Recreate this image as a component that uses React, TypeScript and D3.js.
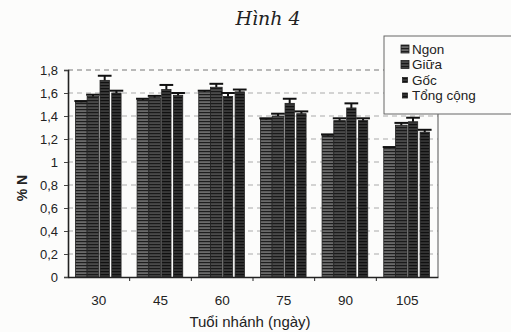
import React, { useEffect, useRef } from "react";
import * as d3 from "d3";

// tuổi nhánh (ngày)
const ages = ["30", "45", "60", "75", "90", "105"];
const seriesNames = ["Ngon", "Giữa", "Gốc", "Tổng cộng"];

// % N, mean per series
const ngon = [1.52, 1.54, 1.61, 1.37, 1.23, 1.12];
const giua = [1.57, 1.56, 1.65, 1.4, 1.36, 1.32];
const goc = [1.71, 1.63, 1.57, 1.51, 1.47, 1.35];
const tong = [1.6, 1.58, 1.61, 1.42, 1.36, 1.26];

// error bar half-widths
const ngonErr = [0.01, 0.01, 0.01, 0.01, 0.01, 0.01];
const giuaErr = [0.015, 0.015, 0.03, 0.02, 0.02, 0.02];
const gocErr = [0.04, 0.04, 0.03, 0.04, 0.04, 0.035];
const tongErr = [0.02, 0.02, 0.02, 0.02, 0.02, 0.02];

const yTicks = [0, 0.2, 0.4, 0.6, 0.8, 1, 1.2, 1.4, 1.6, 1.8];

const App = () => {
  const container = useRef<SVGSVGElement>(null);

  useEffect(() => {
    const svg = d3.select(container.current);
    svg.selectAll("*").remove();

    const width = 511, height = 332;
    const margin = { top: 70, right: 73, bottom: 55, left: 68 };
    const innerW = width - margin.left - margin.right;
    const innerH = height - margin.top - margin.bottom;
    const font = "Liberation Sans, Arial, sans-serif";

    svg.append("rect").attr("width", width).attr("height", height).attr("fill", "#fcfcfb");

    // bar patterns (scanned striping)
    const defs = svg.append("defs");
    const pat = [
      { id: "p0", bg: "#6a6a6a", fg: "#1e1e1e" },
      { id: "p1", bg: "#4a4a4a", fg: "#1a1a1a" },
      { id: "p2", bg: "#3a3a3a", fg: "#111" },
      { id: "p3", bg: "#333", fg: "#111" },
    ];
    pat.forEach((p) => {
      const el = defs.append("pattern").attr("id", p.id)
        .attr("patternUnits", "userSpaceOnUse").attr("width", 4).attr("height", 3);
      el.append("rect").attr("width", 4).attr("height", 3).attr("fill", p.bg);
      el.append("rect").attr("width", 4).attr("height", 1.2).attr("fill", p.fg);
    });

    const g = svg.append("g").attr("transform", `translate(${margin.left},${margin.top})`);

    const x0 = d3.scaleBand().domain(ages).range([0, innerW]).paddingInner(0.24).paddingOuter(0.12);
    const x1 = d3.scaleBand().domain(seriesNames).range([0, x0.bandwidth()]);
    const y = d3.scaleLinear().domain([0, 1.8]).range([innerH, 0]);

    // gridlines
    g.append("g").selectAll("line").data(yTicks.slice(1)).enter().append("line")
      .attr("x1", 0).attr("x2", innerW)
      .attr("y1", (d) => y(d)).attr("y2", (d) => y(d))
      .attr("stroke", (d) => (d === 1.8 ? "#777" : "#aaa"))
      .attr("stroke-width", 1)
      .attr("stroke-dasharray", "5,4");

    // plot border right
    g.append("line").attr("x1", innerW).attr("x2", innerW).attr("y1", 0).attr("y2", innerH)
      .attr("stroke", "#555");

    const series = [
      { name: seriesNames[0], vals: ngon, err: ngonErr, inset: 0 },
      { name: seriesNames[1], vals: giua, err: giuaErr, inset: 0 },
      { name: seriesNames[2], vals: goc, err: gocErr, inset: 1.2 },
      { name: seriesNames[3], vals: tong, err: tongErr, inset: 1.2 },
    ];

    series.forEach((s, si) => {
      const grp = g.append("g");
      grp.selectAll("rect").data(s.vals).enter().append("rect")
        .attr("x", (d, i) => (x0(ages[i]) as number) + (x1(s.name) as number) + s.inset)
        .attr("y", (d) => y(d))
        .attr("width", x1.bandwidth() - s.inset * 2)
        .attr("height", (d) => innerH - y(d))
        .attr("fill", `url(#p${si})`)
        .attr("stroke", "#222").attr("stroke-width", 0.8);

      // error bars
      s.vals.forEach((v, i) => {
        const cx = (x0(ages[i]) as number) + (x1(s.name) as number) + x1.bandwidth() / 2;
        const top = y(v + s.err[i]);
        grp.append("line").attr("x1", cx).attr("x2", cx).attr("y1", y(v)).attr("y2", top)
          .attr("stroke", "#111").attr("stroke-width", 2);
        grp.append("line").attr("x1", cx - x1.bandwidth() / 2 - 1).attr("x2", cx + x1.bandwidth() / 2 + 1)
          .attr("y1", top).attr("y2", top)
          .attr("stroke", "#111").attr("stroke-width", 2);
      });
    });

    // y axis
    const yAxis = g.append("g")
      .call(d3.axisLeft(y).tickValues(yTicks).tickSize(4).tickPadding(6)
        .tickFormat((d) => String(d).replace(".", ",")));
    yAxis.select(".domain").attr("stroke", "#222").attr("stroke-width", 1.6);
    yAxis.selectAll("line").attr("stroke", "#444");
    yAxis.selectAll("text").attr("font-family", font).attr("font-size", 13).attr("fill", "#222");

    // x axis
    const xAxis = g.append("g").attr("transform", `translate(0,${innerH})`)
      .call(d3.axisBottom(x0).tickSize(0).tickPadding(18));
    xAxis.select(".domain").attr("stroke", "#222").attr("stroke-width", 1.6);
    xAxis.selectAll("text").attr("font-family", font).attr("font-size", 13.5).attr("fill", "#222");
    // category separators
    xAxis.selectAll(".sep").data(ages.slice(1)).enter().append("line")
      .attr("x1", (d) => (x0(d) as number) - (x0.step() - x0.bandwidth()) / 2)
      .attr("x2", (d) => (x0(d) as number) - (x0.step() - x0.bandwidth()) / 2)
      .attr("y1", 0).attr("y2", 4).attr("stroke", "#222");

    // axis titles
    svg.append("text").attr("x", 250).attr("y", 327).attr("text-anchor", "middle")
      .attr("font-family", font).attr("font-size", 15).attr("fill", "#222")
      .text("Tuổi nhánh (ngày)");
    svg.append("text").attr("transform", "translate(27,188) rotate(-90)")
      .attr("text-anchor", "middle").attr("font-family", font).attr("font-size", 14)
      .attr("font-weight", "bold").attr("fill", "#222").text("% N");

    // handwritten figure title
    svg.append("text").attr("x", 268).attr("y", 25).attr("text-anchor", "middle")
      .attr("font-family", "DejaVu Serif, serif").attr("font-style", "italic")
      .attr("font-size", 19).attr("fill", "#222").text("Hình 4");

    // legend
    const lg = svg.append("g").attr("transform", "translate(384,36)");
    lg.append("rect").attr("width", 140).attr("height", 78)
      .attr("fill", "#fcfcfb").attr("stroke", "#666").attr("stroke-width", 1);
    const markers = [
      { w: 8, h: 8 }, { w: 8, h: 8 }, { w: 5, h: 5 }, { w: 5, h: 5 },
    ];
    seriesNames.forEach((name, i) => {
      const cy = 13 + i * 15.5;
      const m = markers[i];
      lg.append("rect").attr("x", 21 - m.w / 2).attr("y", cy - m.h / 2)
        .attr("width", m.w).attr("height", m.h)
        .attr("fill", `url(#p${i})`).attr("stroke", "#222").attr("stroke-width", 0.8);
      lg.append("text").attr("x", 28).attr("y", cy).attr("dy", "0.36em")
        .attr("font-family", font).attr("font-size", 13.5).attr("fill", "#222")
        .text(name);
    });
  }, []);

  return (
    <svg ref={container} width={511} height={332}
      style={{ position: "absolute", left: 0, top: 0 }} />
  );
};

export default App;
